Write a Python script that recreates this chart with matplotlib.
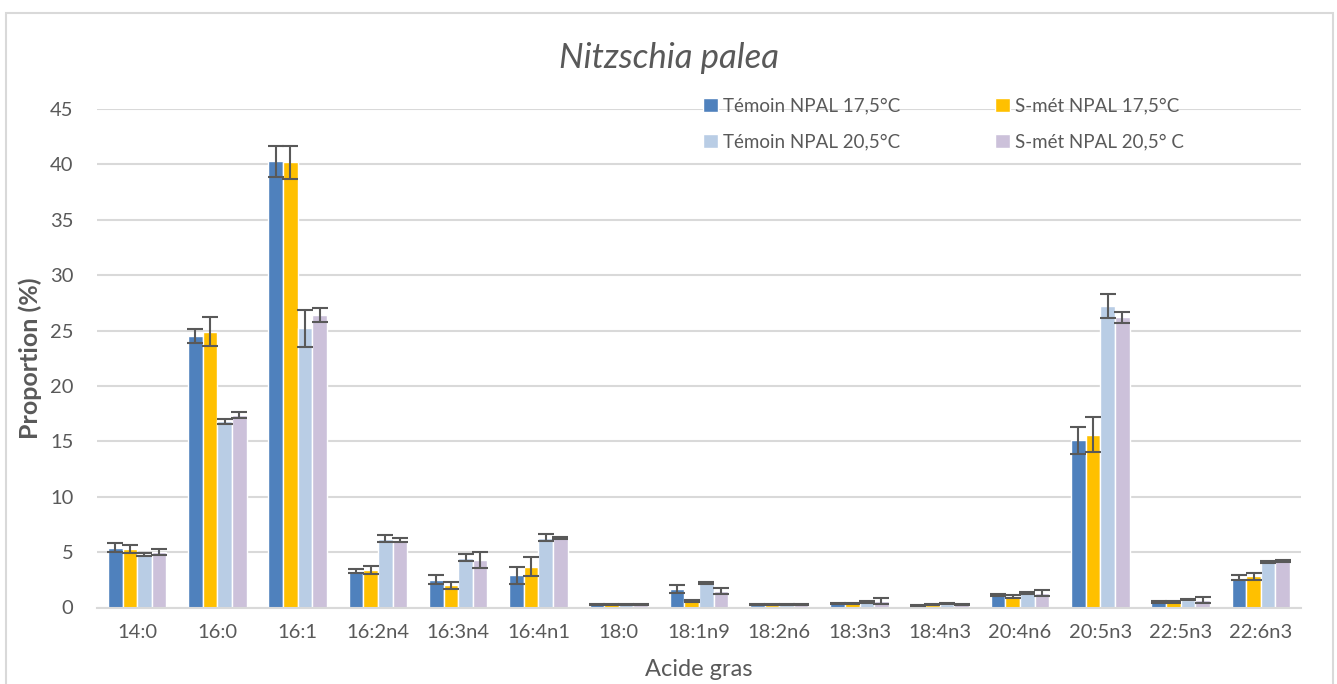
import numpy as np
import matplotlib.pyplot as plt
from matplotlib.patches import Rectangle

acides = ['14:0', '16:0', '16:1', '16:2n4', '16:3n4', '16:4n1', '18:0', '18:1n9',
          '18:2n6', '18:3n3', '18:4n3', '20:4n6', '20:5n3', '22:5n3', '22:6n3']

series = ['Témoin NPAL 17,5°C', 'S-mét NPAL 17,5°C', 'Témoin NPAL 20,5°C', 'S-mét NPAL 20,5° C']

temoin_17 = [5.4, 24.5, 40.3, 3.3, 2.5, 2.9, 0.3, 1.7, 0.25, 0.4, 0.2, 1.1, 15.1, 0.5, 2.7]
smet_17 = [5.3, 24.9, 40.2, 3.4, 2.0, 3.7, 0.3, 0.6, 0.25, 0.4, 0.25, 1.0, 15.6, 0.5, 2.8]
temoin_20 = [4.8, 16.8, 25.2, 6.2, 4.5, 6.3, 0.3, 2.2, 0.25, 0.5, 0.35, 1.3, 27.2, 0.7, 4.1]
smet_20 = [5.0, 17.4, 26.4, 6.1, 4.3, 6.3, 0.25, 1.5, 0.25, 0.6, 0.3, 1.3, 26.2, 0.7, 4.2]

err_temoin_17 = [0.4, 0.6, 1.4, 0.2, 0.4, 0.8, 0.05, 0.35, 0.05, 0.05, 0.05, 0.1, 1.2, 0.05, 0.2]
err_smet_17 = [0.35, 1.3, 1.5, 0.35, 0.3, 0.85, 0.05, 0.1, 0.05, 0.05, 0.05, 0.1, 1.6, 0.05, 0.3]
err_temoin_20 = [0.15, 0.25, 1.7, 0.3, 0.3, 0.3, 0.05, 0.1, 0.05, 0.05, 0.05, 0.1, 1.1, 0.05, 0.1]
err_smet_20 = [0.3, 0.25, 0.6, 0.15, 0.75, 0.1, 0.05, 0.3, 0.05, 0.3, 0.05, 0.3, 0.5, 0.25, 0.05]

couleurs = ['#4F81BD', '#FFC000', '#B9CDE5', '#CCC1DA']
TEXTE = '#595959'

plt.rcParams['font.family'] = ['Lato', 'DejaVu Sans']


def main():
    fig = plt.figure(figsize=(13.37, 6.84), dpi=100)
    ax = fig.add_axes([97 / 1337, 1 - 607.5 / 684, 1204 / 1337, 498.5 / 684])

    # cadre gris autour du graphique
    fig.patches.append(Rectangle((6 / 1337, -0.1), 1327 / 1337, 1.1 - 13 / 684,
                                 transform=fig.transFigure, fill=False,
                                 edgecolor='#D9D9D9', linewidth=1.5))

    x = np.arange(len(acides))
    valeurs = [temoin_17, smet_17, temoin_20, smet_20]
    erreurs = [err_temoin_17, err_smet_17, err_temoin_20, err_smet_20]
    pas = 0.182
    barres = []
    for i, (v, e) in enumerate(zip(valeurs, erreurs)):
        b = ax.bar(x + (i - 1.5) * pas, v, width=pas, color=couleurs[i], edgecolor='white',
                   linewidth=1.0, label=series[i], zorder=2,
                   yerr=e, error_kw=dict(ecolor=TEXTE, elinewidth=1.5, capsize=6, capthick=1.5, zorder=3))
        barres.append(b)

    ax.set_xlim(-0.5, len(acides) - 0.5)
    ax.set_ylim(0, 45)
    ax.set_yticks(range(0, 50, 5))
    ax.set_xticks(x)
    ax.set_xticklabels(acides)
    ax.yaxis.grid(True, color='#D9D9D9', linewidth=1.5, zorder=0)
    ax.set_axisbelow(True)
    for s in ['top', 'right', 'left']:
        ax.spines[s].set_visible(False)
    ax.spines['bottom'].set_color('#D9D9D9')
    ax.spines['bottom'].set_linewidth(1.5)
    ax.tick_params(axis='both', length=0, labelsize=14.5, labelcolor=TEXTE)
    ax.tick_params(axis='y', pad=17)
    ax.tick_params(axis='x', pad=12)

    fig.text(669 / 1337, 1 - 58 / 684, 'Nitzschia palea', fontsize=25, style='italic',
             color=TEXTE, ha='center', va='center')
    fig.text(30 / 1337, 1 - 358 / 684, 'Proportion (%)', fontsize=18, fontweight='bold',
             color=TEXTE, rotation=90, ha='center', va='center')
    fig.text(699 / 1337, 1 - 669 / 684, 'Acide gras', fontsize=17, color=TEXTE,
             ha='center', va='center')

    # ordre Excel : rangée par rangée
    ordre = [0, 2, 1, 3]
    leg = ax.legend([barres[i] for i in ordre], [series[i] for i in ordre], ncol=2,
                    loc='upper left', bbox_to_anchor=(589 / 1204, 1.057),
                    frameon=False, fontsize=13.5, handlelength=0.8, handleheight=0.8,
                    handletextpad=0.25, columnspacing=5.1, labelspacing=1.0)
    for t in leg.get_texts():
        t.set_color(TEXTE)

    fig.savefig('out.png', dpi=100)


if __name__ == '__main__':
    main()
